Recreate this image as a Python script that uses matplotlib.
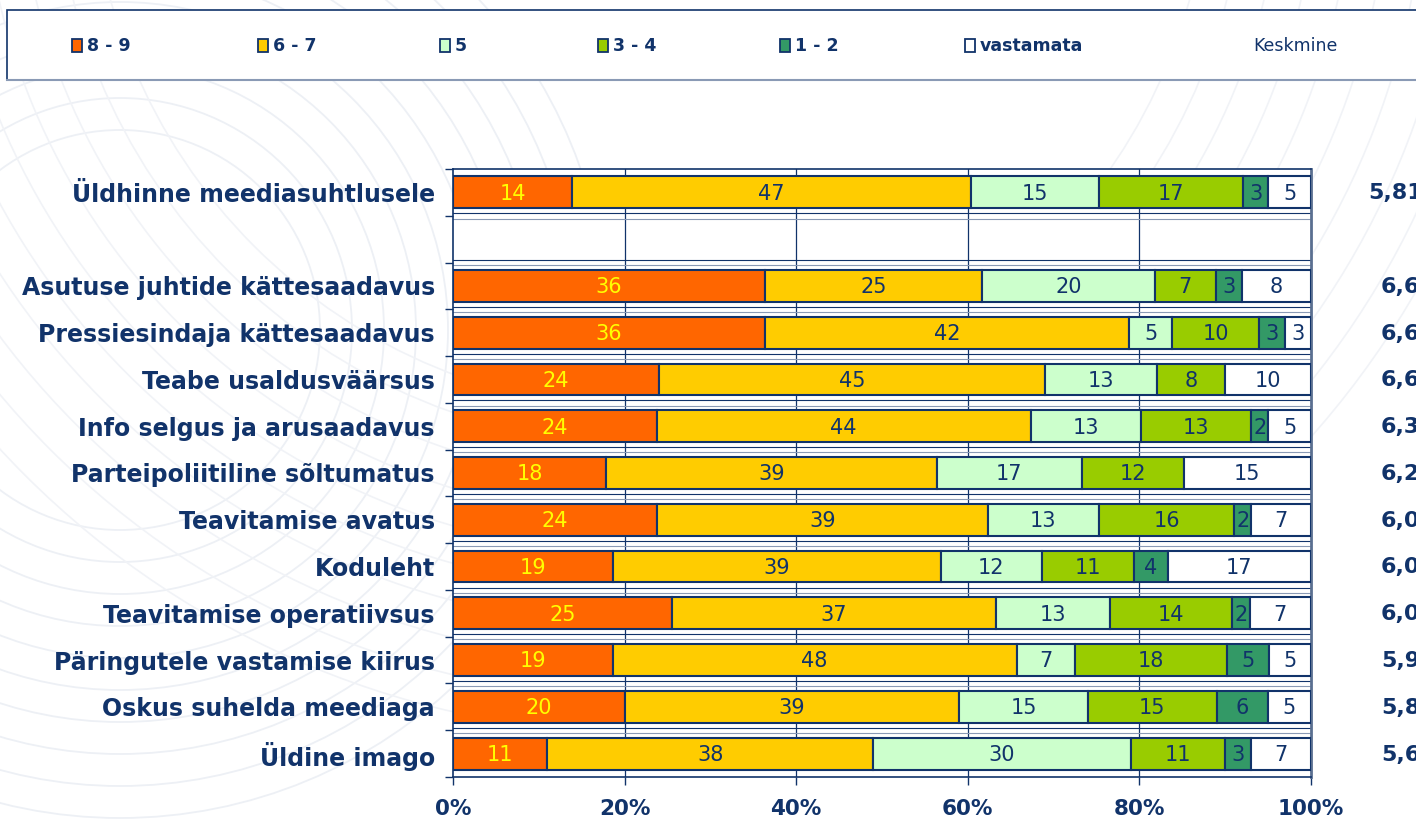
import numpy as np
import matplotlib
matplotlib.use("Agg")
import matplotlib.pyplot as plt
from matplotlib.patches import Rectangle, Circle
from matplotlib.transforms import blended_transform_factory

NAVY = "#11336a"

categories = [
    "Üldhinne meediasuhtlusele",
    "",
    "Asutuse juhtide kättesaadavus",
    "Pressiesindaja kättesaadavus",
    "Teabe usaldusväärsus",
    "Info selgus ja arusaadavus",
    "Parteipoliitiline sõltumatus",
    "Teavitamise avatus",
    "Koduleht",
    "Teavitamise operatiivsus",
    "Päringutele vastamise kiirus",
    "Oskus suhelda meediaga",
    "Üldine imago",
]

groups = ["8-9", "6-7", "5", "3-4", "1-2", "vastamata"]
colors = ["#ff6600", "#ffcc00", "#ccffcc", "#99cc00", "#339966", "#ffffff"]

# percentages per row, None = empty separator row
g89 = [14, None, 36, 36, 24, 24, 18, 24, 19, 25, 19, 20, 11]
g67 = [47, None, 25, 42, 45, 44, 39, 39, 39, 37, 48, 39, 38]
g5 = [15, None, 20, 5, 13, 13, 17, 13, 12, 13, 7, 15, 30]
g34 = [17, None, 7, 10, 8, 13, 12, 16, 11, 14, 18, 15, 11]
g12 = [3, None, 3, 3, 0, 2, 0, 2, 4, 2, 5, 6, 3]
gna = [5, None, 8, 3, 10, 5, 15, 7, 17, 7, 5, 5, 7]

means = ["5,81", None, "6,6", "6,6", "6,6", "6,3", "6,2", "6,0", "6,0", "6,0", "5,9", "5,8", "5,6"]

series = [g89, g67, g5, g34, g12, gna]

fig = plt.figure(figsize=(14.16, 8.25), dpi=100)
fig.patch.set_facecolor("white")

# faint swirl in the background
bg = fig.add_axes([0, 0, 1, 1], zorder=-5)
bg.set_xlim(0, 1416)
bg.set_ylim(825, 0)
bg.axis("off")
for r in np.arange(200, 520, 32):
    bg.add_patch(Circle((120, 330), r, fill=False, ec="#edf0f5", lw=1.3))
for r in np.arange(560, 900, 36):
    bg.add_patch(Circle((650, -150), r, fill=False, ec="#f1f3f7", lw=1.2))

ax = fig.add_axes([0.3199, 0.0582, 0.6059, 0.737])
ax.set_facecolor("white")

rows = np.arange(len(categories))
for i in rows:
    if g89[i] is None:
        continue
    vals = [s[i] for s in series]
    total = sum(vals)
    left = 0.0
    for k, v in enumerate(vals):
        w = v / total * 100
        if v > 0:
            ax.barh(i, w, left=left, height=0.68, color=colors[k],
                    edgecolor=NAVY, linewidth=1.5, zorder=3)
            ax.text(left + w / 2, i + 0.03, str(v), ha="center", va="center",
                    fontsize=15, color="#ffff00" if k == 0 else NAVY, zorder=4)
        left += w

ax.set_xlim(0, 100)
ax.set_ylim(len(categories) - 0.5, -0.5)

ax.set_xticks([0, 20, 40, 60, 80, 100])
ax.set_xticklabels(["0%", "20%", "40%", "60%", "80%", "100%"],
                   fontsize=15.5, fontweight="bold", color=NAVY)
ax.set_yticks(rows)
ax.set_yticklabels(categories, fontsize=17, fontweight="bold", color=NAVY)
ax.tick_params(axis="y", which="major", length=0, pad=13)
ax.set_yticks(np.arange(-0.5, len(categories), 1), minor=True)
ax.tick_params(axis="y", which="minor", length=6, color=NAVY, width=1)
ax.tick_params(axis="x", length=6, color=NAVY, width=1, pad=10)

for x in [20, 40, 60, 80]:
    ax.axvline(x, color=NAVY, lw=0.9, zorder=1)
for y in np.arange(0.5, len(categories) - 1, 1):
    ax.axhline(y - 0.05, color=NAVY, lw=0.8, zorder=1)
    ax.axhline(y + 0.06, color="#8a9ab5", lw=0.8, zorder=1)

for side in ["left", "bottom", "top", "right"]:
    ax.spines[side].set_color(NAVY)
    ax.spines[side].set_linewidth(1.2)
ax.spines["right"].set_color("#5a6f90")
ax.spines["right"].set_linewidth(2)

# averages column on the right
tr = blended_transform_factory(fig.transFigure, ax.transData)
for i, m in enumerate(means):
    if m is None:
        continue
    x = 1368 if i == 0 else 1381
    ax.text(x / 1416, i + 0.02, m, transform=tr, ha="left", va="center",
            fontsize=16, fontweight="bold", color=NAVY, clip_on=False)

# legend strip across the top
bg.add_patch(Rectangle((7, 10), 1420, 70, facecolor="white", edgecolor=NAVY, lw=1.2, zorder=2))
bg.plot([7, 1416], [80, 80], color="#8a9ab5", lw=1.5, zorder=3)
legend_x = [72, 258, 440, 598, 780, 965]
for x, c, lab in zip(legend_x, colors, groups):
    bg.add_patch(Rectangle((x, 39), 10, 13, facecolor=c, edgecolor=NAVY, lw=1.3, zorder=4))
    bg.text(x + 15, 46, lab.replace("-", " - ") if "-" in lab else lab,
            ha="left", va="center", fontsize=12.5, fontweight="bold",
            color=NAVY, zorder=4)
bg.text(1253, 46, "Keskmine", ha="left", va="center", fontsize=12.5,
        color=NAVY, zorder=4)

fig.savefig("out.png", dpi=100)
